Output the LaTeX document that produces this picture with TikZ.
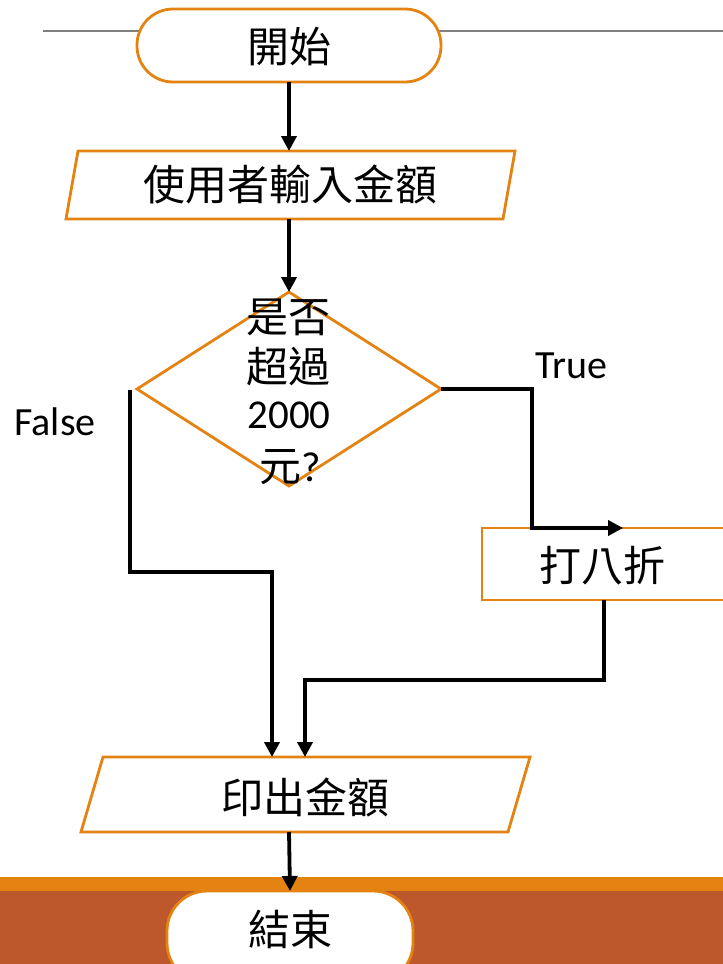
\documentclass[tikz,border=0pt]{standalone}
\usepackage{fontspec}
\setmainfont{Carlito}
\newfontfamily\cjk{Noto Sans CJK TC}
\usetikzlibrary{shapes.geometric,arrows.meta}
\definecolor{orng}{HTML}{E48312}
\definecolor{brwn}{HTML}{BD582C}
\begin{document}
\begin{tikzpicture}[x=1pt,y=-1pt,
  outline/.style={draw=orng,line width=2.8pt},
  conn/.style={draw=black,line width=3.8pt,-{Triangle[length=15pt,width=15pt]}},
  cjktext/.style={font=\cjk\fontsize{42}{48}\selectfont,inner sep=0pt},
  lattext/.style={font=\fontsize{40}{46}\selectfont,inner sep=0pt},
  blank/.style={inner sep=0pt,outer sep=0pt}]
\useasboundingbox (0,0) rectangle (723,964);
\clip (0,0) rectangle (723,964);
% background elements
\fill[brwn] (0,890) rectangle (723,964);
\fill[orng] (0,877) rectangle (723,891);
\draw[gray,line width=1.3pt] (43,31) -- (723,31);

% start
\node[outline,fill=white,rounded corners=36pt,minimum width=304pt,minimum height=73pt,blank] (start) at (289,45.5) {};
\node[cjktext] (starttxt) at (289,47) {開始};

% input parallelogram
\draw[outline,line join=miter] (78,151) -- (515,151) -- (503,219) -- (66,219) -- cycle;
\node[blank,minimum width=437pt,minimum height=68pt] (input) at (290.5,185) {};
\node[cjktext] (inputtxt) at (290,184) {使用者輸入金額};

% decision
\node[outline,shape=diamond,minimum width=304pt,minimum height=194pt,blank] (dec) at (289,389) {};
\node[cjktext] (d1) at (288,317) {是否};
\node[cjktext] (d2) at (288,367) {超過};
\node[lattext,font=\fontsize{41}{46}\selectfont] (d3) at (289,415) {2000};
\node[cjktext] (d4) at (290,467) {元\fontspec{Carlito}?};

% discount box
\node[outline,fill=white,minimum width=300pt,minimum height=72pt,blank,anchor=north west] (disc) at (482,528) {};
\node[cjktext] (disctxt) at (602,566) {打八折};

% output parallelogram
\draw[outline,line join=miter] (103,757) -- (530,757) -- (508,832) -- (81,832) -- cycle;
\node[blank,minimum width=449pt,minimum height=75pt] (output) at (305.5,794.5) {};
\node[cjktext] (outputtxt) at (305,797) {印出金額};

% end
\node[outline,fill=white,rounded corners=40pt,minimum width=246pt,minimum height=92pt,blank,anchor=north] (end) at (290,891) {};
\node[cjktext] (endtxt) at (290,929) {結束};

% labels
\node[lattext] (truelbl) at (571,366) {True};
\node[lattext] (falselbl) at (55,422) {False};

% connectors
\coordinate (falseStart) at (130,390);
\coordinate (trueEnd) at (623,528);
\coordinate (discOut) at (604,600);
\draw[conn] (start.south) -- (start.south |- input.north);
\draw[conn] (input.south -| dec.north) -- (dec.north);
\draw[conn,line join=miter] (dec.east) -- (532,389) -- (532,528) -- (trueEnd);
\draw[conn,line join=miter] (falseStart) -- (130,572) -- (272,572) -- (272,757);
\draw[conn,line join=miter] (discOut) -- (604,680) -- (305,680) -- (305,757);
\draw[conn] (289,832) -- (end.north);
\end{tikzpicture}
\end{document}
